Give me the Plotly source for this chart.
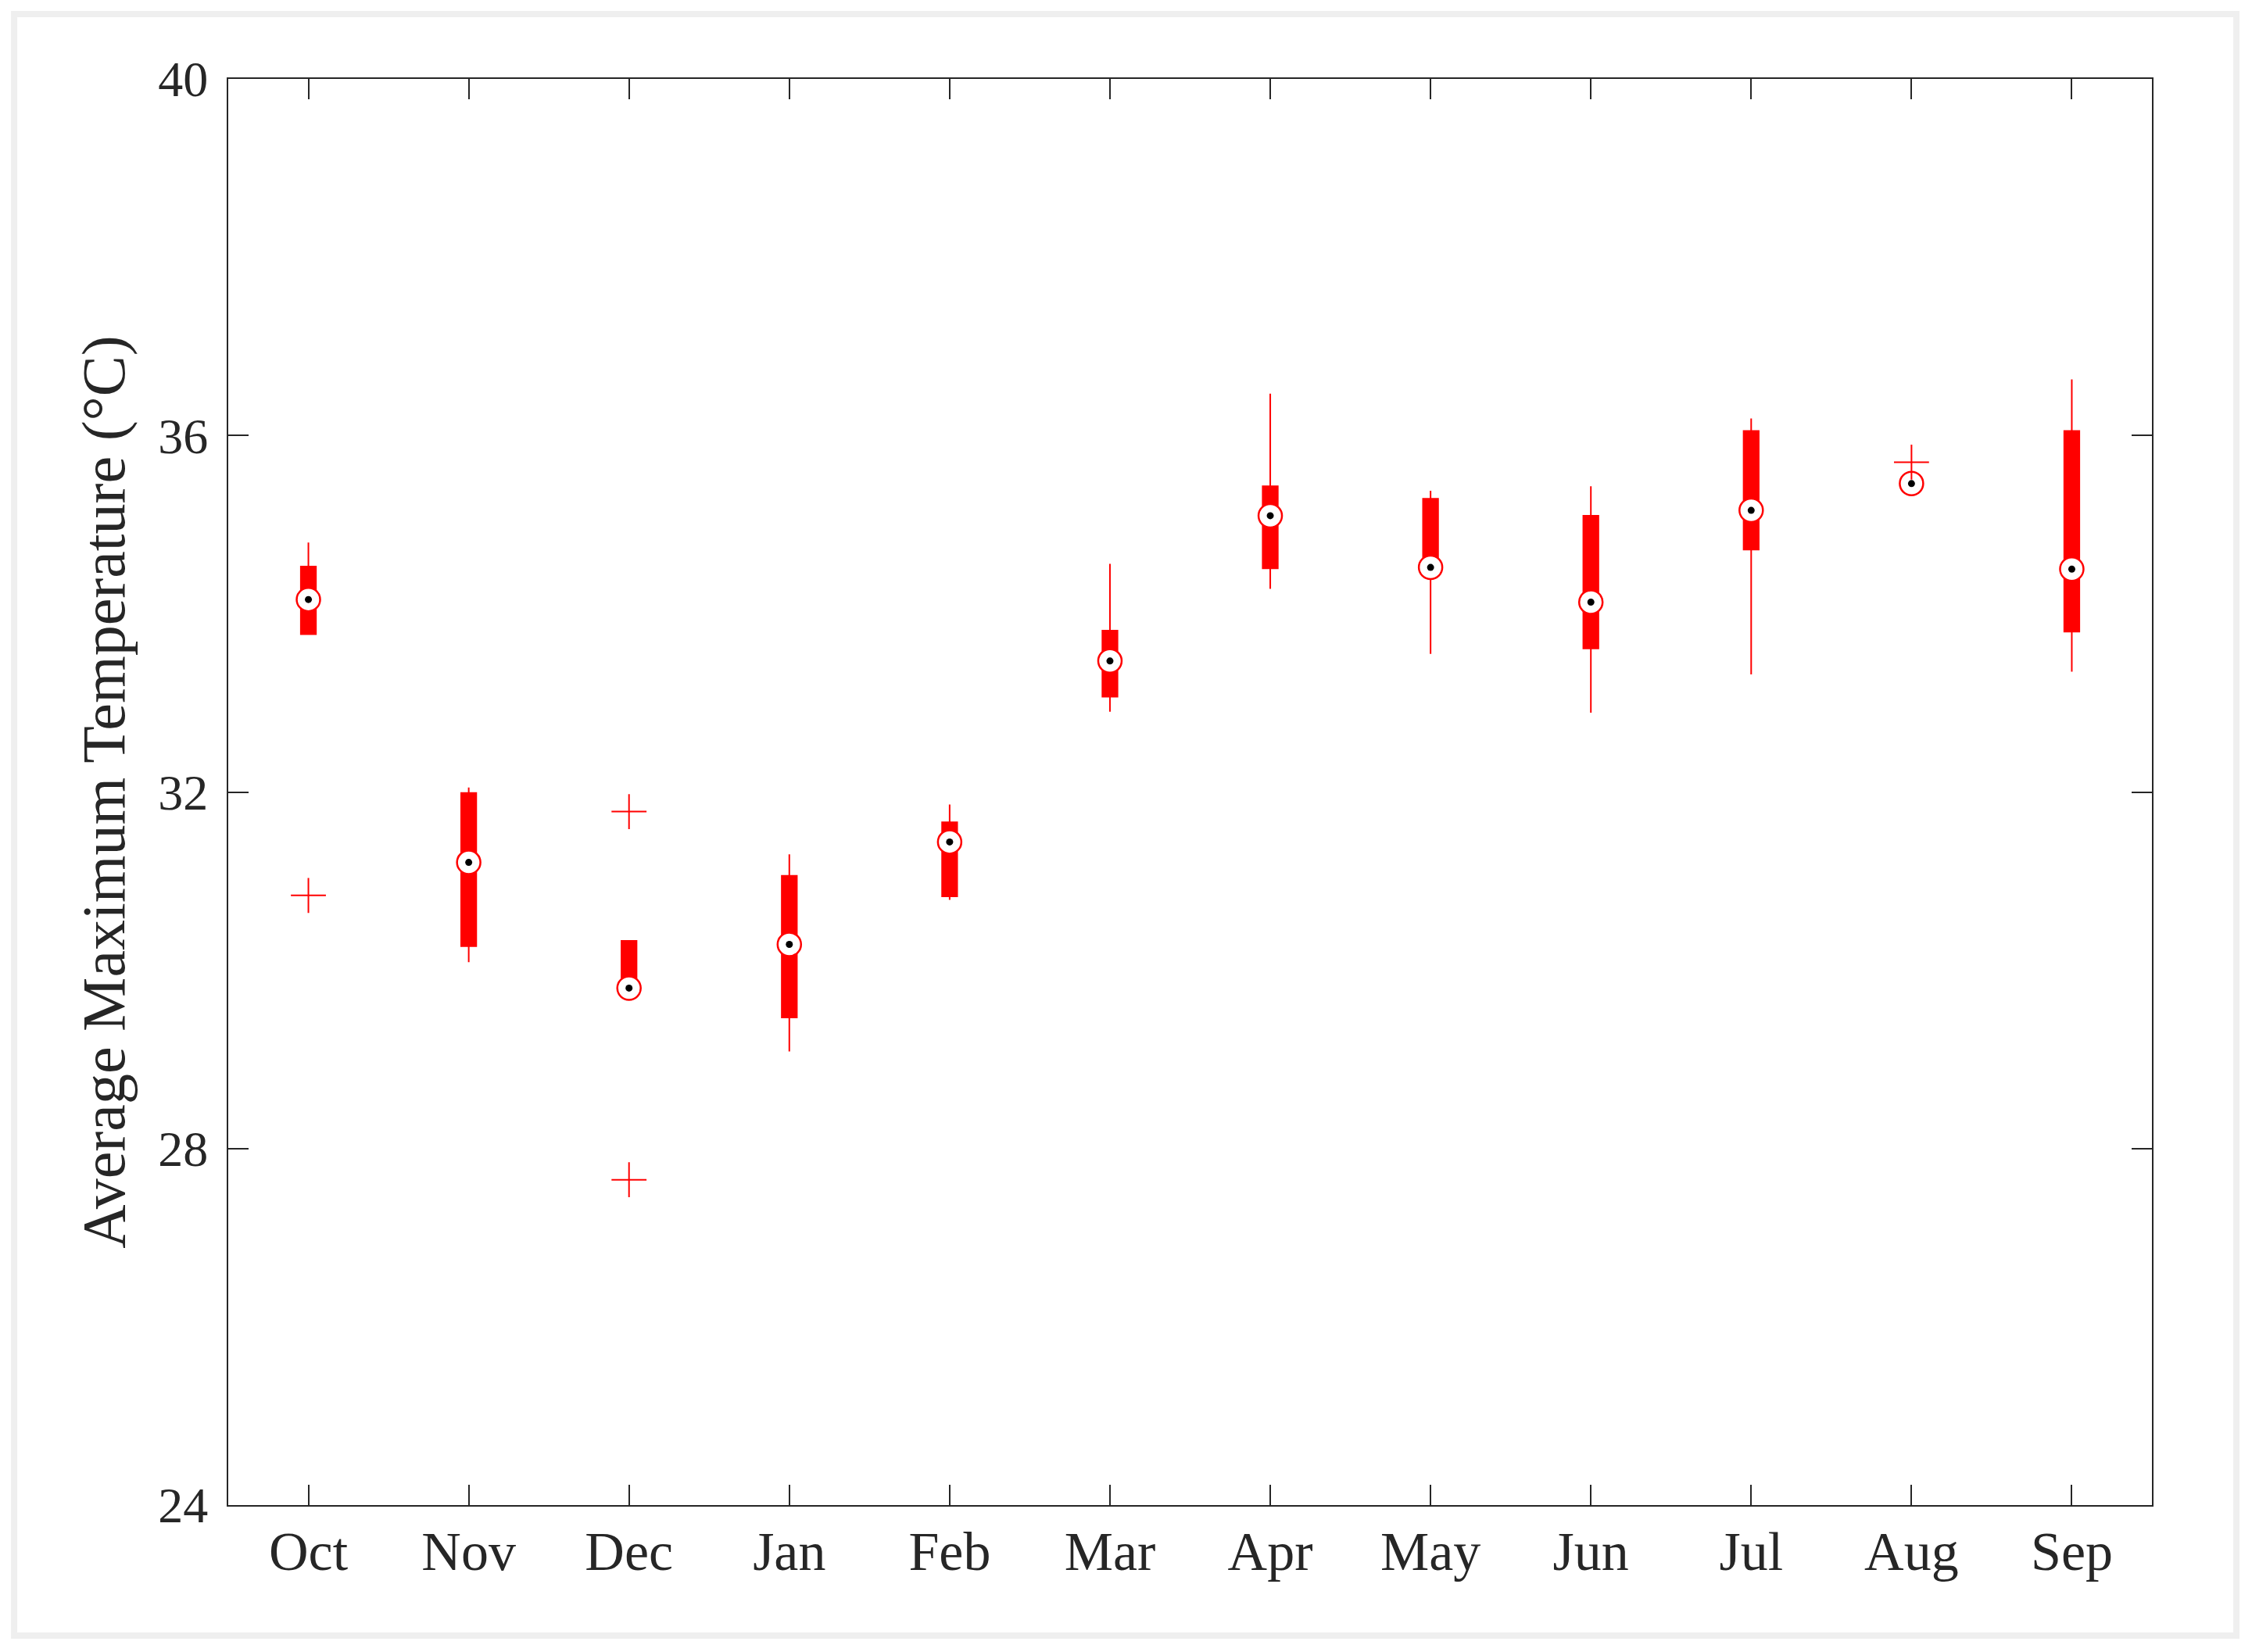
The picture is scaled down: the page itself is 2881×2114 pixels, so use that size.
import plotly.graph_objects as go

# ---- data ----
months = ['Oct', 'Nov', 'Dec', 'Jan', 'Feb', 'Mar', 'Apr', 'May', 'Jun', 'Jul', 'Aug', 'Sep']
q1 = [33.77, 30.27, 29.80, 29.47, 30.83, 33.07, 34.51, 34.50, 33.61, 34.72, 35.46, 33.80]
median = [34.16, 31.21, 29.80, 30.29, 31.44, 33.47, 35.10, 34.52, 34.13, 35.16, 35.46, 34.50]
q3 = [34.53, 31.99, 30.33, 31.06, 31.66, 33.81, 35.43, 35.29, 35.10, 36.05, 35.46, 36.05]
lower = [33.77, 30.09, 29.80, 29.09, 30.79, 32.90, 34.28, 33.55, 32.89, 33.32, 35.46, 33.35]
upper = [34.80, 32.05, 30.33, 31.30, 31.86, 34.56, 36.47, 35.38, 35.43, 36.19, 35.46, 36.63]
outlier_month = ['Oct', 'Dec', 'Dec', 'Aug']
outlier_value = [30.84, 31.78, 27.65, 35.70]
y_ticks = [24, 28, 32, 36, 40]

RED = '#ff0000'
INK = '#262626'
FONT = 'Liberation Serif'

fig = go.Figure()

fig.add_trace(go.Box(
    x=months, q1=q1, median=median, q3=q3,
    lowerfence=lower, upperfence=upper,
    boxpoints=False, fillcolor=RED,
    line=dict(color=RED, width=2),
    whiskerwidth=0, width=0.094, showlegend=False,
))

# median markers: white circle with red ring + black dot
fig.add_trace(go.Scatter(
    x=months, y=median, mode='markers', showlegend=False,
    marker=dict(symbol='circle', size=30, color='white',
                line=dict(color=RED, width=2.5)),
))
fig.add_trace(go.Scatter(
    x=months, y=median, mode='markers', showlegend=False,
    marker=dict(symbol='circle', size=9, color='black', line=dict(width=0)),
))

# outliers
fig.add_trace(go.Scatter(
    x=outlier_month, y=outlier_value, mode='markers', showlegend=False,
    marker=dict(symbol='cross-thin', size=32, color=RED,
                line=dict(color=RED, width=2)),
))

axis_common = dict(
    showline=True, linecolor=INK, linewidth=2, mirror='ticks',
    ticks='inside', ticklen=26, tickwidth=1.6, tickcolor=INK,
    showgrid=False, zeroline=False,
)

fig.update_layout(
    width=2881, height=2114,
    margin=dict(l=284, r=136, t=93, b=196),
    paper_bgcolor='white', plot_bgcolor='white',
    xaxis=dict(type='category', categoryorder='array', categoryarray=months,
               range=[-0.5, 11.5],
               tickfont=dict(family=FONT, size=70, color=INK),
               ticklabelstandoff=-3, **axis_common),
    yaxis=dict(range=[24, 40], tickvals=y_ticks, ticktext=[str(v) for v in y_ticks],
               tickfont=dict(family=FONT, size=64, color=INK),
               ticklabelstandoff=11,
               title=dict(text='Average Maximum Temperature (°C)',
                          font=dict(family=FONT, size=78, color=INK), standoff=17),
               **axis_common),
    shapes=[dict(type='rect', xref='paper', yref='paper',
                 x0=-0.1113, x1=1.0439, y0=-0.0915, y1=1.0455,
                 line=dict(color='#efefef', width=8), fillcolor='rgba(0,0,0,0)',
                 layer='below')],
)

fig.write_html('out.html')
